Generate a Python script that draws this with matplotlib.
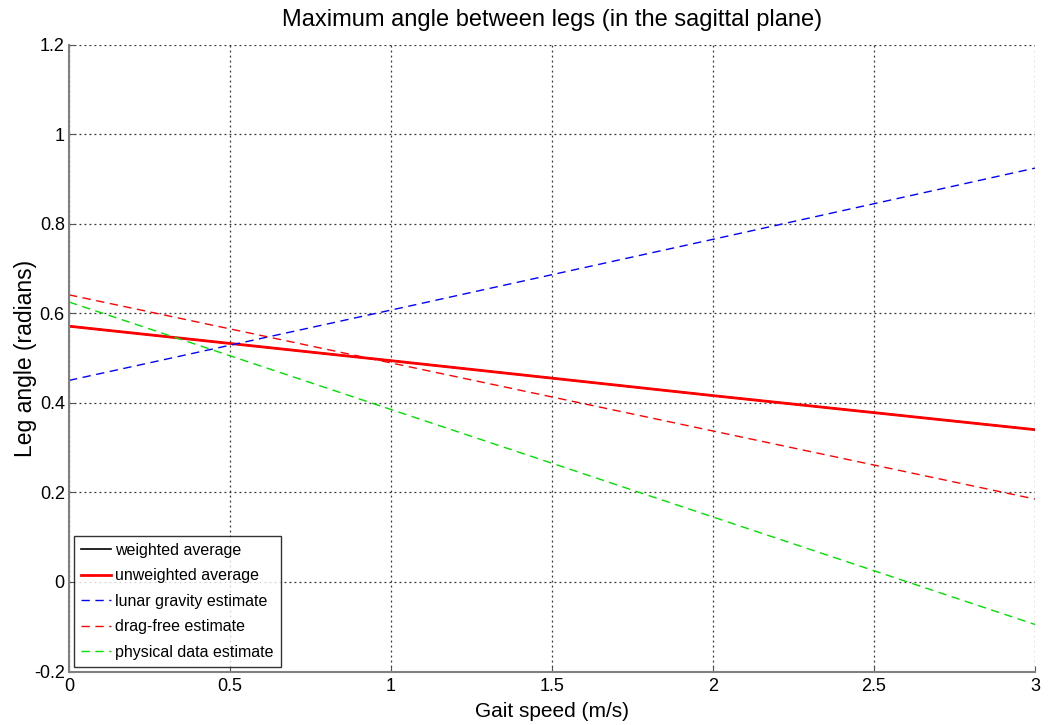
import matplotlib
matplotlib.use("Agg")
import matplotlib.pyplot as plt

speed = [0, 1, 2, 3]
weighted_avg = [0.571, 0.494, 0.416, 0.340]
unweighted_avg = [0.571, 0.494, 0.416, 0.340]
lunar_gravity = [0.450, 0.607, 0.765, 0.924]
drag_free = [0.641, 0.489, 0.337, 0.185]
physical_data = [0.625, 0.385, 0.145, -0.095]

xticks = [0, 0.5, 1, 1.5, 2, 2.5, 3]
xticklabels = ["0", "0.5", "1", "1.5", "2", "2.5", "3"]
yticks = [-0.2, 0, 0.2, 0.4, 0.6, 0.8, 1, 1.2]
yticklabels = ["-0.2", "0", "0.2", "0.4", "0.6", "0.8", "1", "1.2"]

plt.rcParams['font.family'] = ['Liberation Sans', 'DejaVu Sans']

fig = plt.figure(figsize=(10.48, 7.25), dpi=100)
ax = fig.add_axes([69/1048, (725-671.5)/725, (1035-69)/1048, (671.5-44.5)/725])

dash = (0, (6, 4))
ax.plot(speed, weighted_avg, color='black', lw=1.2, label='weighted average')
ax.plot(speed, unweighted_avg, color='red', lw=2.0, label='unweighted average')
ax.plot(speed, lunar_gravity, color='blue', lw=1.0, ls=dash, label='lunar gravity estimate')
ax.plot(speed, drag_free, color='red', lw=1.0, ls=dash, label='drag-free estimate')
ax.plot(speed, physical_data, color='#00e000', lw=1.0, ls=dash, label='physical data estimate')

ax.set_xlim(0, 3)
ax.set_ylim(-0.2, 1.2)
ax.set_xticks(xticks)
ax.set_xticklabels(xticklabels)
ax.set_yticks(yticks)
ax.set_yticklabels(yticklabels)
ax.tick_params(direction='in', length=4, colors='#555555', labelcolor='black', labelsize=13, pad=3)
ax.tick_params(axis='x', pad=5)
ax.grid(True, color='#333333', ls=(0, (1.5, 2.5)), lw=0.9)
for s in ['top', 'right']:
    ax.spines[s].set_visible(False)
for s in ['left', 'bottom']:
    ax.spines[s].set_color('#808080')
    ax.spines[s].set_linewidth(1.5)

ax.set_title('Maximum angle between legs (in the sagittal plane)', fontsize=17, pad=13)
ax.set_xlabel('Gait speed (m/s)', fontsize=15, labelpad=5)
ax.set_ylabel('Leg angle (radians)', fontsize=16.5, labelpad=-2)

leg = ax.legend(loc='lower left', fontsize=11.5, frameon=True, fancybox=False,
                edgecolor='black', handlelength=1.9, borderpad=0.45, labelspacing=0.65,
                handletextpad=0.25, borderaxespad=0.3)
leg.get_frame().set_linewidth(1.0)

fig.savefig('out.png', dpi=100)
